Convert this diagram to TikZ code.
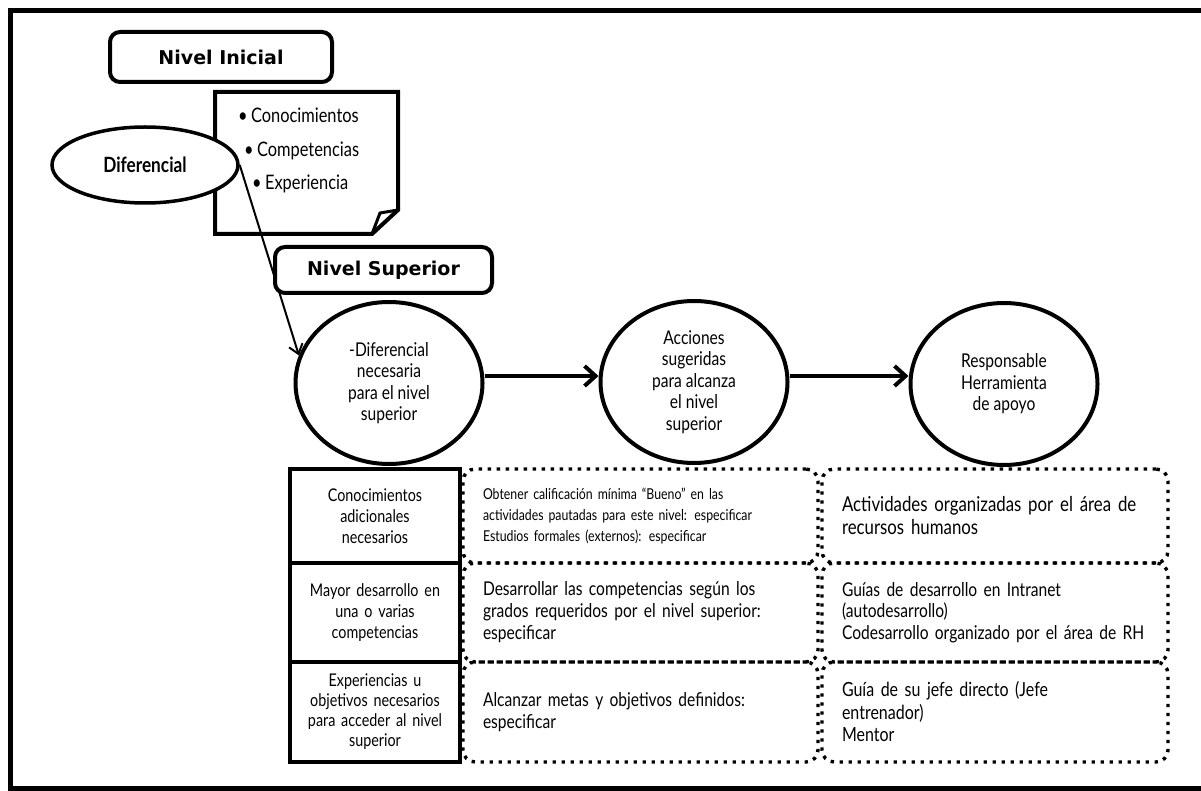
\documentclass[tikz,border=0pt]{standalone}
\usepackage{fontspec}
\newfontfamily\cond[FakeStretch=0.82]{Lato}
\newfontfamily\hdr{DejaVu Sans}
\usetikzlibrary{shapes.geometric,arrows.meta}
\begin{document}
\begin{tikzpicture}[x=1pt,y=-1pt,
  hdrbox/.style={draw, line width=4pt, rounded corners=10pt, fill=white, inner sep=0pt,
    font=\hdr\bfseries\fontsize{19}{22}\selectfont},
  bubble/.style={draw, ellipse, line width=4pt, fill=white, inner sep=0pt, align=center,
    minimum width=187pt, minimum height=162pt, font=\cond\fontsize{19}{21.5}\selectfont},
  lcell/.style={draw, line width=4pt, minimum width=170pt, inner sep=0pt, align=center,
    text width=164pt, font=\cond\fontsize{17.5}{21}\selectfont},
  dcell/.style={draw, line width=3.4pt, dash pattern=on 3.4pt off 5.6pt, rounded corners=12pt,
    inner xsep=20pt, inner ysep=0pt, align=left, font=\cond\fontsize{19}{22}\selectfont},
  flow/.style={line width=4pt, -{Straight Barb[length=11pt,width=20pt]}},
  bul/.style={anchor=base west, inner sep=0pt, font=\cond\fontsize{20}{24}\selectfont}
]
\useasboundingbox (0,0) rectangle (1201,791);
% frame
\draw[line width=5pt] (1215,11) -- (10.5,11) -- (10.5,788.5) -- (1215,788.5);

% note with folded corner
\draw[line width=4pt, line join=miter, fill=white] (215,92) -- (398,92) -- (398,210) -- (372,234) -- (215,234) -- cycle;
\draw[line width=3pt] (372,234) -- (380,213) -- (398,210);
\node[bul] (k1) at (238,123) {\textbullet\,Conocimientos};
\node[bul] (k2) at (244,157) {\textbullet\,Competencias};
\node[bul] (k3) at (252,190) {\textbullet\,Experiencia};

% Diferencial ellipse
\node[draw, ellipse, line width=3.5pt, fill=white, minimum width=186pt, minimum height=76pt, inner sep=0pt,
  font=\cond\bfseries\fontsize{21}{24}\selectfont] (dif) at (145,165) {Diferencial};

% Nivel Inicial
\node[hdrbox, minimum width=222pt, minimum height=50pt] (ini) at (221,57) {Nivel Inicial};

% circles
\node[bubble] (c1) at (389,383) {-Diferencial\\necesaria\\para el nivel\\superior};
\node[bubble] (c2) at (694,382) {Acciones\\sugeridas\\para alcanza\\el nivel\\superior};
\node[bubble] (c3) at (1004,384) {Responsable\\Herramienta\\de apoyo};

% arrows
\draw[line width=2pt, -{Straight Barb[length=9pt,width=14pt]}] (dif.east) -- (c1.163);
\node[hdrbox, minimum width=217pt, minimum height=46pt] (sup) at (383.5,270) {Nivel Superior};
\draw[flow] (c1.east |- 0,376) -- (c2.west |- 0,376);
\draw[flow] (c2.east |- 0,376) -- (c3.west |- 0,376);

% left column
\node[lcell, minimum height=94pt] (l1) at (375,516) {Conocimientos\\adicionales\\necesarios};
\node[lcell, minimum height=99pt] (l2) at (375,612.5) {Mayor desarrollo en\\una o varias\\competencias};
\node[lcell, minimum height=100pt, font=\cond\fontsize{17.5}{20}\selectfont] (l3) at (375,712) {Experiencias u\\objetivos necesarios\\para acceder al nivel\\superior};

% middle column
\node[dcell, text width=315pt, minimum height=94pt, font=\cond\fontsize{15}{21}\selectfont] (m1) at (640.5,516)
  {Obtener calificación mínima “Bueno” en las\\actividades pautadas para este nivel: especificar\\Estudios formales (externos): especificar};
\node[dcell, text width=315pt, minimum height=99pt] (m2) at (640.5,612.5)
  {Desarrollar las competencias según los\\grados requeridos por el nivel superior:\\especificar};
\node[dcell, text width=315pt, minimum height=100pt] (m3) at (640.5,712)
  {Alcanzar metas y objetivos definidos:\\especificar};

% right column
\node[dcell, text width=306pt, minimum height=94pt, font=\cond\fontsize{20.5}{23}\selectfont] (r1) at (995,516)
  {Actividades organizadas por el área de\\recursos humanos};
\node[dcell, text width=306pt, minimum height=99pt, font=\cond\fontsize{19}{21.5}\selectfont] (r2) at (995,612.5)
  {Guías de desarrollo en Intranet\\(autodesarrollo)\\Codesarrollo organizado por el área de RH};
\node[dcell, text width=306pt, minimum height=100pt, font=\cond\fontsize{19.5}{22.5}\selectfont] (r3) at (995,712)
  {Guía de su jefe directo (Jefe\\entrenador)\\Mentor};
\end{tikzpicture}
\end{document}
